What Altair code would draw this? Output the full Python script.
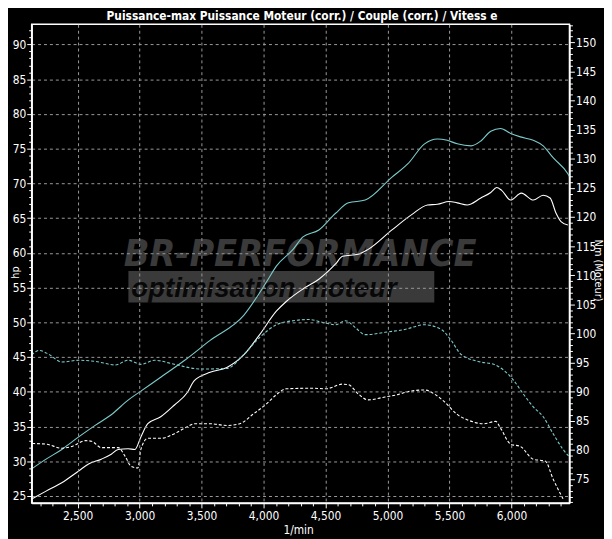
import altair as alt
import pandas as pd

TITLE = "Puissance-max Puissance Moteur (corr.) / Couple (corr.) / Vitess e"

# Puissance (hp) - courbe cyan (pleine)
pa_rpm = [2129, 2245, 2372, 2508, 2644, 2771, 2907, 3010, 3170, 3361, 3569, 3840, 4023, 4103,
          4238, 4318, 4446, 4581, 4685, 4820, 5036, 5163, 5299, 5402, 5482, 5562, 5674, 5753,
          5833, 5913, 5993, 6072, 6176, 6256, 6336, 6455, 6468]
pa_hp = [28.9, 30.3, 31.7, 33.5, 35.2, 36.7, 38.8, 40.1, 42.1, 44.5, 47.4, 51.0, 55.8, 58.1,
         60.5, 62.3, 63.3, 65.7, 67.2, 67.6, 70.9, 72.8, 75.7, 76.4, 76.2, 75.7, 75.4, 76.1,
         77.5, 77.9, 77.2, 76.7, 76.2, 75.4, 73.7, 71.4, 71.0]

# Puissance (hp) - courbe blanche (pleine)
pb_rpm = [2133, 2245, 2372, 2508, 2588, 2691, 2771, 2827, 2907, 2962, 3010, 3066, 3170, 3281,
          3385, 3441, 3569, 3704, 3840, 3967, 4103, 4183, 4318, 4446, 4581, 4637, 4765, 4844,
          5036, 5195, 5323, 5402, 5498, 5562, 5642, 5753, 5833, 5881, 5921, 5993, 6080, 6176,
          6256, 6312, 6360, 6400, 6455]
pb_hp = [24.6, 25.7, 26.9, 28.6, 29.6, 30.3, 31.0, 31.7, 31.8, 31.7, 33.5, 35.4, 36.4, 38.1,
         39.9, 41.6, 42.8, 43.5, 45.3, 48.2, 51.6, 53.0, 54.8, 56.2, 58.4, 59.5, 59.8, 60.5,
         63.3, 65.5, 66.9, 67.0, 67.4, 67.2, 66.9, 67.9, 68.7, 69.4, 69.0, 67.6, 68.6, 67.6,
         68.3, 67.9, 65.7, 64.5, 64.0]

# Couple (Nm) - courbe cyan (pointillés)
ta_rpm = [2129, 2189, 2269, 2372, 2508, 2644, 2803, 2907, 3010, 3122, 3281, 3489, 3704, 3840,
          3967, 4103, 4238, 4366, 4478, 4581, 4661, 4741, 4820, 4980, 5139, 5299, 5434, 5514,
          5594, 5753, 5857, 5937, 6016, 6096, 6176, 6256, 6336, 6416, 6468]
ta_nm = [96.3, 97.1, 96.4, 95.1, 95.4, 95.2, 94.6, 95.4, 94.7, 95.4, 94.7, 93.9, 94.0, 96.4,
         99.3, 101.5, 102.2, 102.4, 101.9, 101.5, 102.2, 101.0, 99.8, 100.2, 100.7, 101.5, 100.7, 98.8,
         96.4, 95.1, 94.7, 93.7, 92.0, 89.6, 87.4, 85.7, 82.8, 80.1, 78.8]

# Couple (Nm) - courbe blanche (pointillés)
tb_rpm = [2133, 2245, 2372, 2452, 2564, 2612, 2691, 2827, 2883, 2931, 2986, 3010, 3066, 3170,
          3281, 3385, 3441, 3569, 3704, 3808, 3919, 4023, 4103, 4183, 4398, 4502, 4637, 4685,
          4765, 4844, 4980, 5084, 5163, 5299, 5378, 5458, 5562, 5642, 5777, 5873, 5913, 5993,
          6072, 6176, 6272, 6336, 6416]
tb_nm = [81.1, 81.0, 80.3, 80.6, 81.6, 81.5, 80.4, 80.4, 78.9, 77.2, 76.9, 80.1, 82.0, 82.0,
         82.8, 84.0, 84.5, 84.5, 84.2, 84.5, 86.2, 87.9, 89.5, 90.5, 90.6, 90.5, 91.3, 91.2,
         89.6, 88.6, 89.1, 89.5, 90.0, 90.3, 89.6, 88.3, 86.1, 85.2, 84.5, 84.9, 83.7, 81.0,
         80.6, 78.4, 78.1, 75.0, 71.6]

FONT = "Liberation Sans Narrow, DejaVu Sans Condensed, Arial Narrow, sans-serif"
CYAN = "#7ccccc"
GRID = "#9a9a9a"

X_DOMAIN = [2129, 6468]
HP_DOMAIN = [24.0, 92.9]
NM_DOMAIN = [70.9, 153.1]

W, H = 545, 485


def cond(test, a, b):
    return {"condition": {"test": test, "value": a}, "value": b}


x_axis = alt.Axis(
    values=list(range(2200, 6500, 100)), format=",d",
    labelExpr="datum.value % 500 === 0 ? datum.label : ''",
    tickSize=cond("datum.value % 500 === 0", 5, 3), labelPadding=3,
    grid=True, gridOpacity=cond("datum.value % 500 === 0", 1, 0),
    gridColor=GRID, gridDash=[3, 3], labelOverlap=False, labelFlush=False,
    title="1/min", titleX=270, titleY=31, titleBaseline="alphabetic",
    titleAngle=0, titleAlign="center", zindex=1,
)
x_enc = lambda: alt.X("rpm:Q", scale=alt.Scale(domain=X_DOMAIN, nice=False, zero=False), axis=x_axis)

hp_axis = alt.Axis(
    orient="left", values=list(range(25, 93)),
    labelExpr="datum.value % 5 === 0 ? datum.label : ''",
    tickSize=cond("datum.value % 5 === 0", 5, 3),
    grid=True, gridOpacity=cond("datum.value % 5 === 0", 1, 0),
    gridColor=GRID, gridDash=[3, 3], labelOverlap=False, labelFlush=False,
    title="hp", titleAngle=270, titleX=-13, titleY=251, titleBaseline="alphabetic",
    titleAlign="center", titleFontSize=11, zindex=1,
)
nm_axis = alt.Axis(
    orient="right", values=list(range(71, 154)),
    labelExpr="datum.value % 5 === 0 ? datum.label : ''",
    tickSize=cond("datum.value % 5 === 0", 5, 3),
    grid=False, labelOverlap=False, labelFlush=False,
    title="Nm (Moteur)", titleAngle=90, titleX=25, titleY=249, titleBaseline="alphabetic",
    titleAlign="center", titleFontSize=11,
)


def line(rpm, vals, col, color, dash, axis, domain):
    df = pd.DataFrame({"rpm": rpm, col: vals})
    props = dict(color=color, strokeWidth=1.1, interpolate="monotone", clip=True)
    if dash:
        props["strokeDash"] = dash
    return alt.Chart(df).mark_line(**props).encode(
        x=x_enc(),
        y=alt.Y(f"{col}:Q", scale=alt.Scale(domain=domain, nice=False, zero=False), axis=axis),
    )


# watermark + title text
wm_df = pd.DataFrame({"t": ["BR-PERFORMANCE"], "s": ["optimisation moteur"], "title": [TITLE]})
wm_band = alt.Chart(wm_df).mark_rect(color="#3a3a3a").encode(
    x=alt.value(98), x2=alt.value(408), y=alt.value(250), y2=alt.value(282)
)
wm_big = alt.Chart(wm_df).mark_text(
    font="Liberation Sans Narrow, DejaVu Sans Condensed, sans-serif", fontSize=38,
    fontWeight="bold", fontStyle="italic", color="#3a3a3a", align="center", baseline="alphabetic"
).encode(x=alt.value(272), y=alt.value(245), text="t:N")
wm_small = alt.Chart(wm_df).mark_text(
    font="Liberation Sans, sans-serif", fontSize=28, fontWeight="bold", fontStyle="italic",
    color="#080808", align="left", baseline="alphabetic"
).encode(x=alt.value(101), y=alt.value(276), text="s:N")
title_txt = alt.Chart(wm_df).mark_text(
    font=FONT, fontSize=12, fontWeight="bold", color="#ffffff", align="center",
    baseline="alphabetic"
).encode(x=alt.value(274), y=alt.value(-4), text="title:N")

left = alt.layer(
    line(pa_rpm, pa_hp, "hp", CYAN, None, hp_axis, HP_DOMAIN),
    line(pb_rpm, pb_hp, "hp", "#ffffff", None, hp_axis, HP_DOMAIN),
)
right = alt.layer(
    line(ta_rpm, ta_nm, "nm", CYAN, [3, 2], nm_axis, NM_DOMAIN),
    line(tb_rpm, tb_nm, "nm", "#ffffff", [3, 2], nm_axis, NM_DOMAIN),
)

chart = alt.layer(wm_band, wm_big, wm_small, title_txt, left, right).resolve_scale(
    y="independent"
).properties(
    width=W, height=H,
    padding={"left": 24, "top": 13, "right": 35, "bottom": 33},
    autosize=alt.AutoSizeParams(type="none"),
).configure(
    background="#000000",
).configure_view(
    stroke="#ffffff", strokeWidth=1.5, fill="#000000",
).configure_axis(
    labelColor="#ffffff", labelFont=FONT, labelFontSize=12, labelPadding=1,
    titleColor="#ffffff", titleFont=FONT, titleFontSize=12, titleFontWeight="normal",
    domainColor="#ffffff", domainWidth=1.5, tickColor="#ffffff", tickWidth=1,
)

chart.save("out.html", embed_options={"renderer": "svg", "actions": False})
